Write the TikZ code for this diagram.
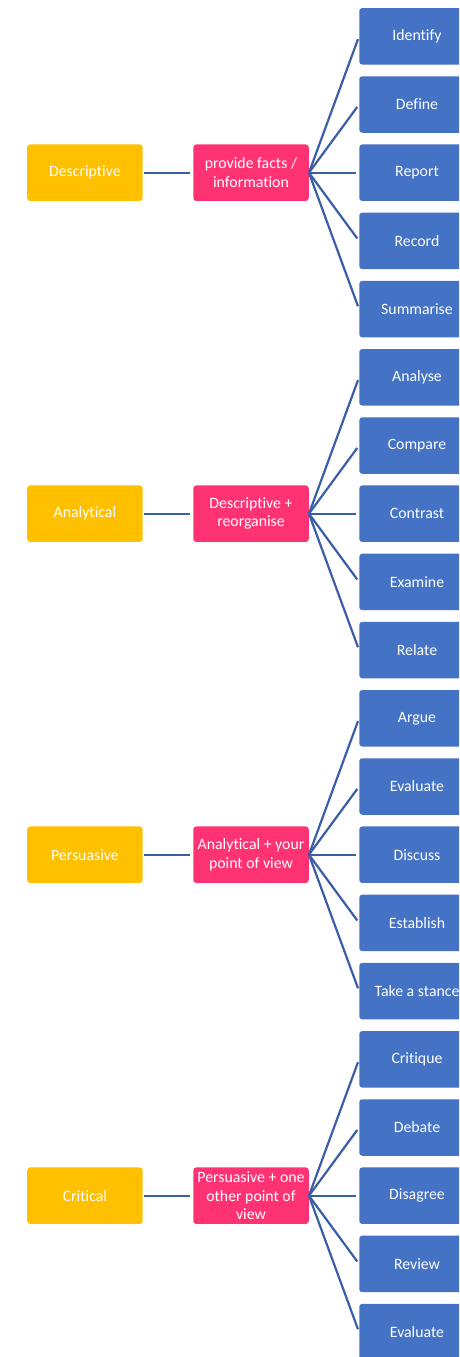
\documentclass[tikz,border=0pt]{standalone}
\usepackage{fontspec}
\setmainfont{Carlito}[Ligatures=NoCommon]
\definecolor{levelyellow}{HTML}{FFC000}
\definecolor{purposepink}{HTML}{FF3374}
\definecolor{verbblue}{HTML}{4472C4}
\definecolor{linkblue}{HTML}{3B5EA8}
\begin{document}
\begin{tikzpicture}[x=1pt,y=-1pt,
  box/.style={rounded corners=3pt, minimum width=115.5pt, minimum height=56.5pt,
    inner sep=1pt, text=white, align=center, font=\fontsize{15.8}{18.3}\selectfont},
  level/.style={box, fill=levelyellow},
  purpose/.style={box, fill=purposepink},
  verb/.style={box, fill=verbblue},
  link/.style={draw=linkblue, line width=2.2pt}]
\useasboundingbox (0,0) rectangle (459,1357);
\clip (0,0) rectangle (459,1357);
\foreach \g/\lev/\pur/\verbs in {
  0/Descriptive/{provide facts /\\information}/{Identify,Define,Report,Record,Summarise},
  1/Analytical/{Descriptive +\\reorganise}/{Analyse,Compare,Contrast,Examine,Relate},
  2/Persuasive/{Analytical + your\\point of view}/{Argue,Evaluate,Discuss,Establish,Take a stance},
  3/Critical/{Persuasive + one\\other point of\\view}/{Critique,Debate,Disagree,Review,Evaluate}}{
  \pgfmathsetmacro\cy{172.7+341*\g}
  \node[level] (L\g) at (84.9,\cy) {\lev};
  \node[purpose] (P\g) at (251,\cy) {\pur};
  \draw[link, shorten <=1pt, shorten >=3pt] (L\g.east) -- (P\g.west);
  \foreach \v [count=\i from 0] in \verbs {
    \pgfmathsetmacro\vy{\cy+68.2*(\i-2)}
    \node[verb] (V\g-\i) at (417,\vy) {\v};
    \draw[link, shorten >=3pt] (P\g.east) -- (V\g-\i.west);
  }
}
\end{tikzpicture}
\end{document}
